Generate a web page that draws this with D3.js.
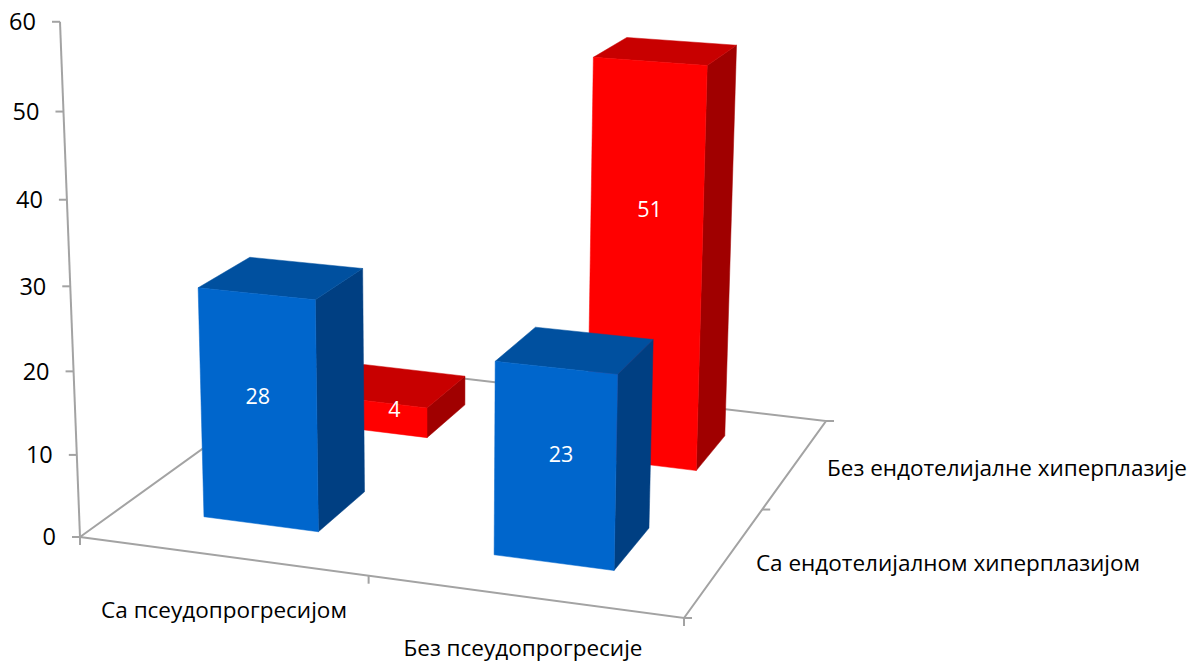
<!DOCTYPE html>
<html><head><meta charset="utf-8">
<script src="https://cdn.jsdelivr.net/npm/d3@7"></script>
<style>html,body{margin:0;padding:0;background:#fff}svg{display:block}text{font-family:"Open Sans",sans-serif}</style>
</head><body><svg id="c" width="1196" height="662"></svg>
<script>
const categories = ["Са псеудопрогресијом", "Без псеудопрогресије"];
const seriesNames = ["Са ендотелијалном хиперплазијом", "Без ендотелијалне хиперплазије"];
const frontValues = [28, 23];
const backValues = [4, 51];
const valueTicks = [0, 10, 20, 30, 40, 50, 60];

// Camera: floor corners and the vanishing point of verticals
const floorQuad = [[80,537],[684,618],[826,421],[323,362]];
const verticalVP = [442,9858];
const heightPersp = -0.000873;
const heightGainAcross = 0.025;

const [[x0,y0],[x1,y1],[x2,y2],[x3,y3]] = floorQuad;
const dx1=x1-x2, dx2=x3-x2, sx=x0-x1+x2-x3, dy1=y1-y2, dy2=y3-y2, sy=y0-y1+y2-y3;
const den=dx1*dy2-dx2*dy1;
const g=(sx*dy2-dx2*sy)/den, h=(dx1*sy-sx*dy1)/den;
const a=x1-x0+g*x1, b=x3-x0+h*x3, d=y1-y0+g*y1, e=y3-y0+h*y3;

const xBand = d3.scaleBand().domain(categories).range([-0.006,0.994]).paddingInner(.6).paddingOuter(.3);
const zBand = d3.scaleBand().domain(seriesNames).range([0,1]).paddingInner(.6).paddingOuter(.3);
const hScale = d3.scaleLinear().domain([0,60]).range([0,60]);

function project(s,t,v){
  const k = heightPersp*hScale(v)*(1+heightGainAcross*s);
  const U = x0+a*s+b*t + k*verticalVP[0];
  const V = y0+d*s+e*t + k*verticalVP[1];
  const W = 1+g*s+h*t + k;
  return [U/W, V/W];
}

const svg = d3.select("#c");
const line = d3.line();
const gridColor = "#a3a3a3";

// floor outline and value axis
const axes = svg.append("g").attr("fill","none").attr("stroke",gridColor).attr("stroke-width",2);
axes.append("path").attr("d", line([project(0,0,0),project(1,0,0),project(1,1,0),project(0,1,0)])+"Z");
axes.append("path").attr("d", line([project(0,0,60),project(0,0,0)]));

valueTicks.forEach(v=>{
  const p=project(0,0,v);
  axes.append("path").attr("d",line([[p[0]-8,p[1]],p]));
  svg.append("text").attr("x",p[0]-24).attr("y",p[1]).attr("dy","0.35em")
    .attr("text-anchor","end").attr("font-size",23.5).attr("fill","#000").text(v);
});
[0,.49,1].forEach(s=>{
  const p=project(s,0,0);
  axes.append("path").attr("d",line([p,[p[0],p[1]+8]]));
});
[0,.5,1].forEach(s=>{
  const q=project(1,s,0);
  axes.append("path").attr("d",line([q,[q[0]+8,q[1]]]));
});

// category labels
const catLabelPos = [[224,610],[523,648]];
categories.forEach((c,i)=>svg.append("text").attr("x",catLabelPos[i][0]).attr("y",catLabelPos[i][1]).attr("dy","0.35em")
  .attr("text-anchor","middle").attr("font-size",22.5).attr("fill","#000").text(c));
const serLabelPos = [[948,563],[1007,468]];
seriesNames.forEach((c,i)=>svg.append("text").attr("x",serLabelPos[i][0]).attr("y",serLabelPos[i][1]).attr("dy","0.35em")
  .attr("text-anchor","middle").attr("font-size",22.5).attr("fill","#000").text(c));

// bars, back to front
const palettes = [
  {front:"#0066cc", side:"#003f82", top:"#00509f"},
  {front:"#ff0000", side:"#a00000", top:"#c80000"}
];
// nudge of each value label away from the centre of its front face, back series then front series
const labelNudge = [[20,-7],[4,-57],[-1,-14],[6,-12]];
const bars = [];
[1,0].forEach(si=>{
  const vals = si===0?frontValues:backValues;
  categories.forEach((c,ci)=>bars.push({c,ser:seriesNames[si],v:vals[ci],pal:palettes[si],nudge:labelNudge[bars.length]}));
});

const gb = svg.append("g");
bars.forEach(B=>{
  const s0=xBand(B.c), s1=s0+xBand.bandwidth(), t0=zBand(B.ser), t1=t0+zBand.bandwidth();
  const poly=(pts,fill)=>gb.append("path").attr("d",line(pts)+"Z").attr("fill",fill).attr("stroke",fill).attr("stroke-width",.5);
  poly([project(s1,t0,0),project(s1,t1,0),project(s1,t1,B.v),project(s1,t0,B.v)],B.pal.side);
  poly([project(s0,t0,B.v),project(s1,t0,B.v),project(s1,t1,B.v),project(s0,t1,B.v)],B.pal.top);
  poly([project(s0,t0,0),project(s1,t0,0),project(s1,t0,B.v),project(s0,t0,B.v)],B.pal.front);
  B.m=project((s0+s1)/2,t0,B.v/2);
});
// labels above all bars
bars.forEach(B=>{
  gb.append("text").attr("x",B.m[0]+B.nudge[0]).attr("y",B.m[1]+B.nudge[1]).attr("dy","0.35em").attr("text-anchor","middle")
    .attr("font-size",21.5).attr("fill","#fff").text(B.v);
});
</script></body></html>
